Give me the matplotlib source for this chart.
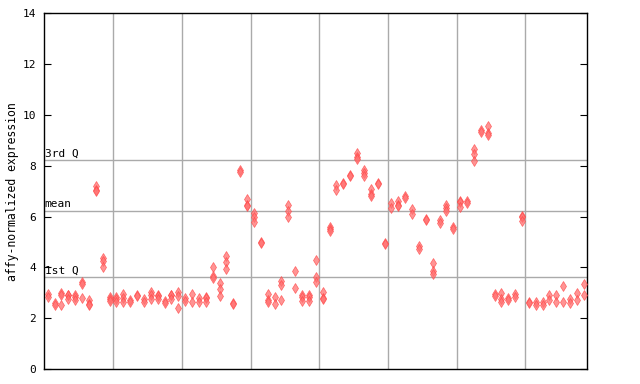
import matplotlib
matplotlib.use("Agg")
import matplotlib.pyplot as plt
import numpy as np

# replicate values per sample
samples = [
    [2.95, 2.85], [2.6, 2.5], [3.0, 2.9, 2.5], [2.92, 2.92, 2.75], [2.91, 2.82, 2.73],
    [3.42, 3.35, 2.78], [2.7, 2.55, 2.52], [7.2, 7.05, 7.0], [4.35, 4.25, 4.0], [2.85, 2.75, 2.68],
    [2.85, 2.75, 2.65], [2.95, 2.8, 2.65], [2.72, 2.65], [2.92, 2.88], [2.75, 2.65],
    [3.05, 2.9, 2.75], [2.9, 2.88, 2.75], [2.68, 2.6], [2.92, 2.9, 2.75], [3.05, 2.88, 2.4],
    [2.8, 2.68], [2.95, 2.62], [2.8, 2.65], [2.82, 2.78, 2.65], [4.0, 3.68, 3.6],
    [3.4, 3.15, 2.88], [4.45, 4.2, 3.95], [2.58, 2.55], [7.83, 7.75], [6.68, 6.45, 6.4],
    [6.15, 5.97, 5.78], [5.0, 4.95], [2.95, 2.7, 2.65], [2.82, 2.56], [3.45, 3.3, 2.72],
    [6.45, 6.2, 6.0], [3.85, 3.2], [2.92, 2.82, 2.68], [2.92, 2.82, 2.67], [4.28, 3.62, 3.43],
    [3.02, 2.78, 2.75], [5.6, 5.5, 5.45], [7.25, 7.05], [7.32, 7.28], [7.65, 7.6],
    [8.52, 8.35, 8.25], [7.85, 7.7, 7.58], [7.08, 6.9, 6.8], [7.33, 7.28], [4.95, 4.92],
    [6.52, 6.35], [6.62, 6.45, 6.4], [6.8, 6.72], [6.28, 6.12], [4.85, 4.72],
    [5.92, 5.88], [4.16, 3.85, 3.75], [5.88, 5.75], [6.45, 6.35, 6.2], [5.6, 5.5],
    [6.62, 6.58, 6.38], [6.62, 6.55], [8.65, 8.45, 8.18], [9.42, 9.32], [9.57, 9.3, 9.2],
    [2.95, 2.88], [2.98, 2.75, 2.62], [2.8, 2.72], [2.95, 2.85], [6.02, 5.98, 5.83],
    [2.62, 2.58], [2.62, 2.52], [2.62, 2.52], [2.92, 2.72], [2.92, 2.65],
    [3.27, 2.64], [2.75, 2.58], [3.0, 2.72], [3.35, 2.9],
]

q1, mean, q3 = 3.62, 6.22, 8.23
yticks = [0, 2, 4, 6, 8, 10, 12, 14]

plt.rcParams["font.family"] = "DejaVu Sans Mono"

fig = plt.figure(figsize=(6.4, 3.84), dpi=100)
ax = fig.add_axes([44.3 / 640, 15 / 384, 543 / 640, 355.7 / 384])

n = len(samples)
for i, vals in enumerate(samples):
    xs = np.full(len(vals), i)
    ax.plot(xs, vals, linestyle="none", marker="d", markersize=5,
            markerfacecolor="#ff7070", markeredgecolor="#ff4040",
            markeredgewidth=0.5, alpha=0.75, zorder=3)

# horizontal reference lines
for val, lab in [(q3, "3rd Q"), (mean, "mean"), (q1, "1st Q")]:
    ax.axhline(val, color="#aaaaaa", linewidth=1, zorder=1)
    ax.text(-0.45, val + 0.06, lab, fontsize=8, ha="left", va="bottom")

# vertical separators every 10 samples
for b in range(10, n, 10):
    ax.axvline(b - 0.5, color="#aaaaaa", linewidth=1, zorder=1)

ax.set_xlim(-0.5, n - 0.5)
ax.set_ylim(0, 14)
ax.set_xticks([])
ax.set_yticks(yticks)
ax.set_yticklabels([str(t) for t in yticks], fontsize=8)
ax.tick_params(axis="y", direction="in", length=5, right=True, pad=6)
ax.set_ylabel("affy-normalized expression", fontsize=8.3, va="center")
ax.yaxis.set_label_coords(-0.058, 0.5)
for s in ax.spines.values():
    s.set_linewidth(1)

fig.savefig("out.png", dpi=100)
